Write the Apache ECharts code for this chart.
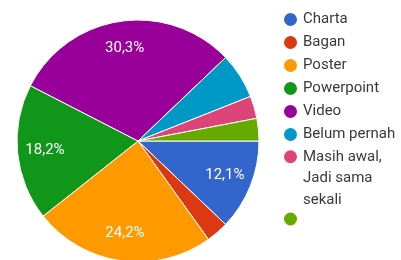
<!DOCTYPE html>
<html>
<head>
<meta charset="utf-8">
<script src="https://cdn.jsdelivr.net/npm/echarts@6/dist/echarts.min.js"></script>
<style>
  html, body { margin: 0; padding: 0; background: #fff; }
  #chart { width: 401px; height: 260px; }
</style>
</head>
<body>
<div id="chart"></div>
<script>
// answer options and their share of responses (%)
const categories = ['Charta', 'Bagan', 'Poster', 'Powerpoint', 'Video', 'Belum pernah', 'Masih awal, Jadi sama sekali', ' '];
const shares = [12.1, 3.0, 24.2, 18.2, 30.3, 6.1, 3.0, 3.0];
const colors = ['#3366cc', '#dc3912', '#ff9900', '#109618', '#990099', '#0099c6', '#dd4477', '#66aa00'];
const labelThreshold = 10;

const pieData = categories.map((name, i) => ({ name: name, value: shares[i] }));
// same values, only used to place the percent labels further out
const labelData = shares.map(v => ({ value: v, label: { show: v >= labelThreshold } }));

const legendText = { fontFamily: 'Roboto', fontSize: 15, color: '#3a3a3a', lineHeight: 15 };
const legendBase = {
  orient: 'vertical',
  left: 282,
  padding: 0,
  icon: 'circle',
  itemWidth: 15,
  itemHeight: 15,
  itemGap: 6,
  selectedMode: false,
  textStyle: legendText
};

const chart = echarts.init(document.getElementById('chart'));
chart.setOption({
  animation: false,
  color: colors,
  legend: [
    Object.assign({}, legendBase, { top: 11, data: categories.slice(0, 6) }),
    Object.assign({}, legendBase, {
      top: 103,
      data: [categories[6]],
      textStyle: Object.assign({}, legendText, { lineHeight: 21.5 }),
      formatter: () => '\n\nMasih awal,\nJadi sama\nsekali'
    }),
    Object.assign({}, legendBase, { top: 210.5, data: [categories[7]] })
  ],
  series: [
    {
      type: 'pie',
      center: [138, 141],
      radius: [0, 121],
      startAngle: 0,
      clockwise: true,
      data: pieData,
      label: { show: false },
      labelLine: { show: false },
      itemStyle: { borderColor: '#fff', borderWidth: 1 },
      emphasis: { disabled: true }
    },
    {
      type: 'pie',
      center: [138, 141],
      radius: [60, 121],
      startAngle: 0,
      clockwise: true,
      silent: true,
      data: labelData,
      itemStyle: { color: 'transparent', borderWidth: 0 },
      label: {
        position: 'inside',
        color: '#fff',
        fontSize: 15,
        fontFamily: 'Roboto',
        formatter: p => p.value.toFixed(1).replace('.', ',') + '%'
      },
      labelLine: { show: false }
    }
  ]
});
</script>
</body>
</html>
